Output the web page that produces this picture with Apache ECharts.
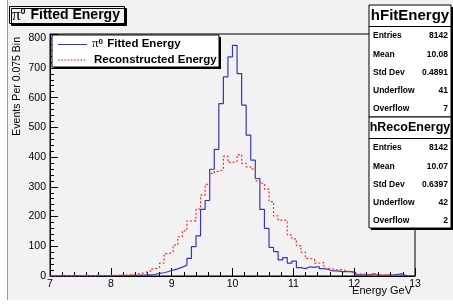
<!DOCTYPE html>
<html>
<head>
<meta charset="utf-8">
<script src="https://cdn.jsdelivr.net/npm/echarts@6/dist/echarts.min.js"></script>
<style>
html,body{margin:0;padding:0;background:#ffffff;}
#panel{position:absolute;left:7px;top:0;width:446px;height:300px;background:#f2f2f2;border-left:1px solid #9a9a9a;box-sizing:border-box;}
#chart{position:absolute;left:0;top:0;width:453px;height:305px;}
</style>
</head>
<body>
<div id="panel"></div>
<div id="chart"></div>
<script>
// Histogram binning: 80 bins of 0.075 GeV from 7 to 13
const binStart = 7;
const binWidth = 0.075;
const xTicks = [7, 8, 9, 10, 11, 12, 13];
const yTicks = [0, 100, 200, 300, 400, 500, 600, 700, 800];

// pi0 Fitted Energy (hFitEnergy) bin contents
const fittedEnergy = [
  0,0,1,0,0,1,0,0,1,0,
  1,1,0,1,1,2,1,2,2,3,
  3,4,5,9,11,15,20,24,30,36,
  59,99,135,224,254,359,426,580,670,737,
  776,681,575,474,390,328,224,160,96,82,
  54,62,43,50,28,25,31,29,32,25,
  22,17,17,15,15,15,12,4,3,4,
  7,3,2,3,3,5,7,2,1,1
];
// Reconstructed Energy (hRecoEnergy) bin contents
const recoEnergy = [
  0,1,0,0,1,0,1,1,0,1,
  1,1,2,2,2,3,3,5,7,9,
  12,16,24,29,43,75,81,104,132,152,
  185,186,225,272,308,345,352,358,403,382,
  385,408,379,367,360,320,312,292,250,202,
  188,187,138,125,102,80,59,56,43,46,
  26,24,20,22,18,14,8,7,6,5,
  4,5,3,3,3,2,2,2,1,1
];
const statsFit = [["Entries","8142"],["Mean","10.08"],["Std Dev","0.4891"],["Underflow","41"],["Overflow","7"]];
const statsReco = [["Entries","8142"],["Mean","10.07"],["Std Dev","0.6397"],["Underflow","42"],["Overflow","2"]];

function steps(vals){
  const pts = vals.map((v,i)=>[binStart + binWidth*i, v]);
  pts.push([binStart + binWidth*vals.length, vals[vals.length-1]]);
  return pts;
}

const BLUE = '#3838b4';
const RED = '#ff2a2a';
const FONT = 'Liberation Sans, Arial, Helvetica, sans-serif';
const PIFONT = 'Liberation Serif, Times New Roman, serif';

function statsBox(name, rows, top, height, titleSize){
  const x = 369, w = 82;
  const els = [];
  els.push({type:'rect', shape:{x:x+2, y:top+2, width:w, height:height}, style:{fill:'#000'}, z:10});
  els.push({type:'rect', shape:{x:x, y:top, width:w, height:height}, style:{fill:'#ffffff', stroke:'#000', lineWidth:1}, z:11});
  els.push({type:'text', x:x+w/2, y:top+11, style:{text:name, font:'bold '+titleSize+'px '+FONT, fill:'#000', align:'center', verticalAlign:'middle'}, z:12});
  els.push({type:'line', shape:{x1:x, y1:top+21.5, x2:x+w, y2:top+21.5}, style:{stroke:'#000', lineWidth:1}, z:12});
  rows.forEach((r,i)=>{
    const yy = top + 31 + i*18.2;
    els.push({type:'text', x:x+4, y:yy, style:{text:r[0], font:'bold 8.5px '+FONT, fill:'#000', align:'left', verticalAlign:'middle'}, z:12});
    els.push({type:'text', x:x+w-3, y:yy, style:{text:r[1], font:'bold 8.5px '+FONT, fill:'#000', align:'right', verticalAlign:'middle'}, z:12});
  });
  return els;
}

const chart = echarts.init(document.getElementById('chart'), null, {renderer:'canvas'});
const graphics = [];
// legend box
graphics.push({type:'rect', shape:{x:54, y:37, width:167, height:32}, style:{fill:'#000'}, z:10});
graphics.push({type:'rect', shape:{x:52, y:35, width:167, height:32}, style:{fill:'#fff', stroke:'#000', lineWidth:1}, z:11});
graphics.push({type:'line', shape:{x1:58, y1:44.5, x2:87, y2:44.5}, style:{stroke:BLUE, lineWidth:1}, z:12});
graphics.push({type:'line', shape:{x1:58, y1:60, x2:87, y2:60}, style:{stroke:'#ff6060', lineWidth:1.6, lineDash:[1.6,1.6]}, z:12});
graphics.push({type:'text', x:92, y:44, style:{text:'{pi|π}{sup|0} Fitted Energy', font:'bold 11.5px '+FONT, fill:'#000', align:'left', verticalAlign:'middle',
  rich:{pi:{fontFamily:PIFONT, fontSize:13, fontWeight:'normal'}, sup:{fontSize:8, fontWeight:'bold', verticalAlign:'top', padding:[0,1,5,0]}}}, z:12});
graphics.push({type:'text', x:94, y:60, style:{text:'Reconstructed Energy', font:'bold 11.5px '+FONT, fill:'#000', align:'left', verticalAlign:'middle'}, z:12});
// axis titles
graphics.push({type:'text', x:412, y:291, style:{text:'Energy GeV', font:'11px '+FONT, fill:'#000', align:'right', verticalAlign:'middle'}, z:12});
graphics.push({type:'text', x:17, y:37, rotation:Math.PI/2, style:{text:'Events Per 0.075 Bin', font:'10.5px '+FONT, fill:'#000', align:'right', verticalAlign:'middle'}, z:12});
graphics.push(...statsBox('hFitEnergy', statsFit, 5, 112, 15));
graphics.push(...statsBox('hRecoEnergy', statsReco, 117, 111, 12.5));

chart.setOption({
  animation:false,
  backgroundColor:'transparent',
  title:{
    text:'{pi|π}{sup|0} Fitted Energy',
    left:9, top:6,
    padding:[1,5,0,3],
    backgroundColor:'#f2f2f2', borderColor:'#000', borderWidth:1,
    shadowColor:'#000', shadowOffsetX:2, shadowOffsetY:2, shadowBlur:0,
    textStyle:{fontFamily:FONT, fontWeight:'bold', fontSize:14, color:'#000', lineHeight:17,
      rich:{pi:{fontFamily:PIFONT, fontSize:17, fontWeight:'normal', lineHeight:17},
            sup:{fontSize:9, fontWeight:'bold', verticalAlign:'top', lineHeight:10, padding:[0,1,0,0]}}}
  },
  grid:{left:50, right:38, top:34, bottom:29, show:true, borderColor:'#000', borderWidth:1, backgroundColor:'transparent'},
  xAxis:{
    type:'value', min:xTicks[0], max:xTicks[xTicks.length-1], interval:1,
    axisLine:{show:true, lineStyle:{color:'#000', width:1}},
    axisTick:{show:true, inside:true, length:8, lineStyle:{color:'#000'}},
    minorTick:{show:true, splitNumber:5, length:4, lineStyle:{color:'#000'}},
    splitLine:{show:false},
    axisLabel:{color:'#000', fontFamily:FONT, fontSize:10.5, margin:3,
      formatter:v=> xTicks.indexOf(v)>=0 ? String(v) : ''}
  },
  yAxis:{
    type:'value', min:0, max:814, interval:100,
    axisLine:{show:true, lineStyle:{color:'#000', width:1}},
    axisTick:{show:true, inside:true, length:8, lineStyle:{color:'#000'}},
    minorTick:{show:true, splitNumber:5, length:4, lineStyle:{color:'#000'}},
    splitLine:{show:false},
    axisLabel:{color:'#000', fontFamily:FONT, fontSize:10.5, margin:4, showMaxLabel:false,
      formatter:v=> yTicks.indexOf(v)>=0 ? String(v) : ''}
  },
  series:[
    {name:'π0 Fitted Energy', type:'line', step:'end', data:steps(fittedEnergy), showSymbol:false,
      lineStyle:{color:BLUE, width:1.2}, itemStyle:{color:BLUE}, z:3},
    {name:'Reconstructed Energy', type:'line', step:'end', data:steps(recoEnergy), showSymbol:false,
      lineStyle:{color:RED, width:1.2, type:[2,2]}, itemStyle:{color:RED}, z:4}
  ],
  graphic:graphics
});
</script>
</body>
</html>
